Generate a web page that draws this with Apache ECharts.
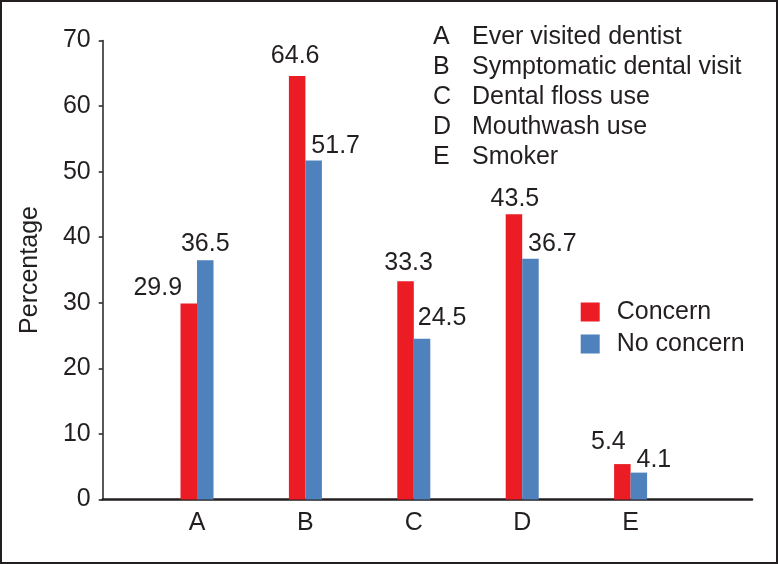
<!DOCTYPE html>
<html>
<head>
<meta charset="utf-8">
<script src="https://cdn.jsdelivr.net/npm/echarts@6/dist/echarts.min.js"></script>
<style>
html,body{margin:0;padding:0;background:#fff;}
#frame{width:778px;height:564px;box-sizing:border-box;border:2px solid #231f20;position:relative;overflow:hidden;}
#chart{position:absolute;left:-2px;top:-2px;width:778px;height:564px;}
</style>
</head>
<body>
<div id="frame"><div id="chart"></div></div>
<script>
const categories = ['A', 'B', 'C', 'D', 'E'];
const descriptions = ['Ever visited dentist', 'Symptomatic dental visit', 'Dental floss use', 'Mouthwash use', 'Smoker'];
const concern = [29.9, 64.6, 33.3, 43.5, 5.4];
const noConcern = [36.5, 51.7, 24.5, 36.7, 4.1];
const seriesNames = ['Concern', 'No concern'];
const yTicks = [0, 10, 20, 30, 40, 50, 60, 70];

// label placement (style only)
const concernLabelOffsets = [[-31, -3], [-2, -7], [3, -6], [1, -3], [-14, -9]];
const noConcernLabelOffsets = [[0, -4], [22, -2], [20, -8], [22, -2], [15, 0]];

const FONT = '"Liberation Sans", Arial, sans-serif';
const TXT = '#231f20';
const FS = 25;

const chart = echarts.init(document.getElementById('chart'), null, {renderer: 'canvas'});

function mk(values, offsets) {
  return values.map((v, i) => ({value: v, label: {offset: offsets[i]}}));
}

const graphics = [];
categories.forEach((c, i) => {
  const y = 37 + i * 30;
  graphics.push({type: 'text', x: 433, y: y, style: {text: c, font: FS + 'px ' + FONT, fill: TXT, verticalAlign: 'middle', align: 'left'}});
  graphics.push({type: 'text', x: 472, y: y, style: {text: descriptions[i], font: FS + 'px ' + FONT, fill: TXT, verticalAlign: 'middle', align: 'left'}});
});

const option = {
  animation: false,
  backgroundColor: '#fff',
  textStyle: {fontFamily: FONT},
  grid: [
    {left: 102.7, right: 26, top: 40.5, bottom: 64.5},
    {left: 142.8, right: 93.2, top: 40.5, bottom: 64.5}
  ],
  xAxis: [
    {gridIndex: 0, type: 'value', min: 0, max: 1,
      axisLine: {show: true, lineStyle: {color: TXT, width: 2.5}},
      axisTick: {show: false}, axisLabel: {show: false}, splitLine: {show: false}},
    {gridIndex: 1, type: 'category', data: categories,
      axisLine: {show: false}, axisTick: {show: false},
      axisLabel: {color: TXT, fontSize: FS, fontFamily: FONT, margin: 11}}
  ],
  yAxis: [
    {gridIndex: 0, type: 'value', min: yTicks[0], max: yTicks[yTicks.length - 1], interval: 10,
      name: 'Percentage', nameLocation: 'middle', nameGap: 60, nameRotate: 90,
      nameTextStyle: {color: TXT, fontSize: FS, fontFamily: FONT},
      axisLine: {show: true, lineStyle: {color: TXT, width: 1.5}},
      axisTick: {show: true, inside: false, length: 4, lineStyle: {color: TXT, width: 1.5}},
      axisLabel: {color: TXT, fontSize: FS, fontFamily: FONT, margin: 12},
      splitLine: {show: false}},
    {gridIndex: 1, type: 'value', min: 0, max: 70, show: false}
  ],
  legend: {
    data: seriesNames, orient: 'vertical', left: 580.7, top: 299.5, padding: 0,
    icon: 'rect', itemWidth: 19, itemHeight: 19, itemGap: 7,
    textStyle: {color: TXT, fontSize: FS, fontFamily: FONT, padding: [0, 0, 0, 12]}
  },
  series: [
    {name: seriesNames[0], type: 'bar', xAxisIndex: 1, yAxisIndex: 1,
      data: mk(concern, concernLabelOffsets), barWidth: 16.5, barGap: '0%',
      itemStyle: {color: '#ec1c24'},
      label: {show: true, position: 'top', distance: 0, color: TXT, fontSize: FS, fontFamily: FONT,
        formatter: p => p.value.toFixed(1)}},
    {name: seriesNames[1], type: 'bar', xAxisIndex: 1, yAxisIndex: 1,
      data: mk(noConcern, noConcernLabelOffsets), barWidth: 16.5, barGap: '0%',
      itemStyle: {color: '#4f81bd'},
      label: {show: true, position: 'top', distance: 0, color: TXT, fontSize: FS, fontFamily: FONT,
        formatter: p => p.value.toFixed(1)}}
  ],
  graphic: graphics
};
chart.setOption(option);
</script>
</body>
</html>
